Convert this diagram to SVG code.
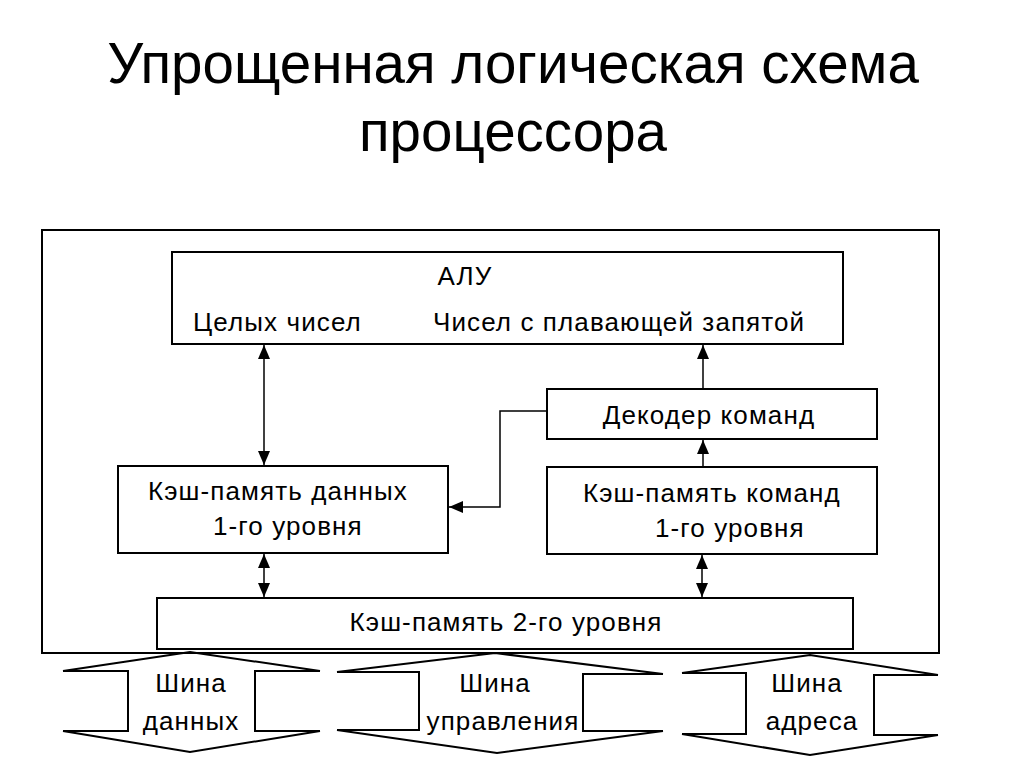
<svg xmlns="http://www.w3.org/2000/svg" width="1024" height="767" viewBox="0 0 1024 767">
<style>
.t{font-family:"Liberation Sans",Arial,sans-serif;fill:#000}
.title{font-size:56.5px}
.lbl{font-size:26px;letter-spacing:1.1px}
.box{fill:#fff;stroke:#000;stroke-width:2}
.ln{fill:none;stroke:#000;stroke-width:1.5}
.bus{fill:none;stroke:#000;stroke-width:2;stroke-linejoin:miter}
</style>
<defs>
<marker id="ah" viewBox="0 0 14 12" refX="14" refY="6" markerWidth="14" markerHeight="12" markerUnits="userSpaceOnUse" orient="auto-start-reverse">
<path d="M0,0 L14,6 L0,12 Z" fill="#000"/>
</marker>
</defs>
<rect width="1024" height="767" fill="#fff"/>
<g id="title">
<text class="t title" x="513" y="83" text-anchor="middle">Упрощенная логическая схема</text>
<text class="t title" x="513" y="151" text-anchor="middle">процессора</text>
</g>
<g id="frame">
<rect x="42" y="230" width="897" height="423" fill="none" stroke="#000" stroke-width="2"/>
</g>
<g id="alu">
<rect class="box" x="172" y="252" width="671" height="92"/>
<text class="t lbl" x="465" y="285" text-anchor="middle">АЛУ</text>
<text class="t lbl" x="193" y="331">Целых чисел</text>
<text class="t lbl" x="433" y="331">Чисел с плавающей запятой</text>
</g>
<g id="decoder">
<rect class="box" x="547" y="389" width="330" height="50"/>
<text class="t lbl" x="709" y="424" text-anchor="middle">Декодер команд</text>
</g>
<g id="dcache">
<rect class="box" x="118" y="466" width="330" height="87"/>
<text class="t lbl" x="148" y="500">Кэш-память данных</text>
<text class="t lbl" x="213" y="535">1-го уровня</text>
</g>
<g id="icache">
<rect class="box" x="547" y="467" width="330" height="87"/>
<text class="t lbl" x="583" y="502">Кэш-память команд</text>
<text class="t lbl" x="655" y="537">1-го уровня</text>
</g>
<g id="l2">
<rect class="box" x="157" y="598" width="696" height="51"/>
<text class="t lbl" x="506" y="631" text-anchor="middle">Кэш-память 2-го уровня</text>
</g>
<g id="bus-data">
<path class="bus" d="M63,671 L190,652 L320,671 M63,671 H128 V731 H63 M320,671 H255 V731 H320 M63,731 L190,752 L320,731"/>
<text class="t lbl" x="191" y="692" text-anchor="middle">Шина</text>
<text class="t lbl" x="191" y="730" text-anchor="middle">данных</text>
</g>
<g id="bus-control">
<path class="bus" d="M337,672 L495,653 L663,674 M337,672 H419 V730 H337 M663,674 H583 V731 H663 M337,730 L497,753 L663,731"/>
<text class="t lbl" x="495" y="692" text-anchor="middle">Шина</text>
<text class="t lbl" x="503" y="730" text-anchor="middle">управления</text>
</g>
<g id="bus-address">
<path class="bus" d="M682,673 L810,655 L938,675 M682,673 H746 V734 H682 M938,675 H874 V735 H938 M682,734 L810,755 L938,735"/>
<text class="t lbl" x="807" y="692" text-anchor="middle">Шина</text>
<text class="t lbl" x="812" y="730" text-anchor="middle">адреса</text>
</g>
<g id="connectors">
<line class="ln" x1="264" y1="465" x2="264" y2="345" marker-start="url(#ah)" marker-end="url(#ah)"/>
<line class="ln" x1="703" y1="388" x2="703" y2="345" marker-end="url(#ah)"/>
<line class="ln" x1="703" y1="466" x2="703" y2="440" marker-end="url(#ah)"/>
<polyline class="ln" points="547,411 500,411 500,507 449,507" marker-end="url(#ah)"/>
<line class="ln" x1="264" y1="554" x2="264" y2="597" marker-start="url(#ah)" marker-end="url(#ah)"/>
<line class="ln" x1="702" y1="555" x2="702" y2="597" marker-start="url(#ah)" marker-end="url(#ah)"/>
</g>
</svg>
